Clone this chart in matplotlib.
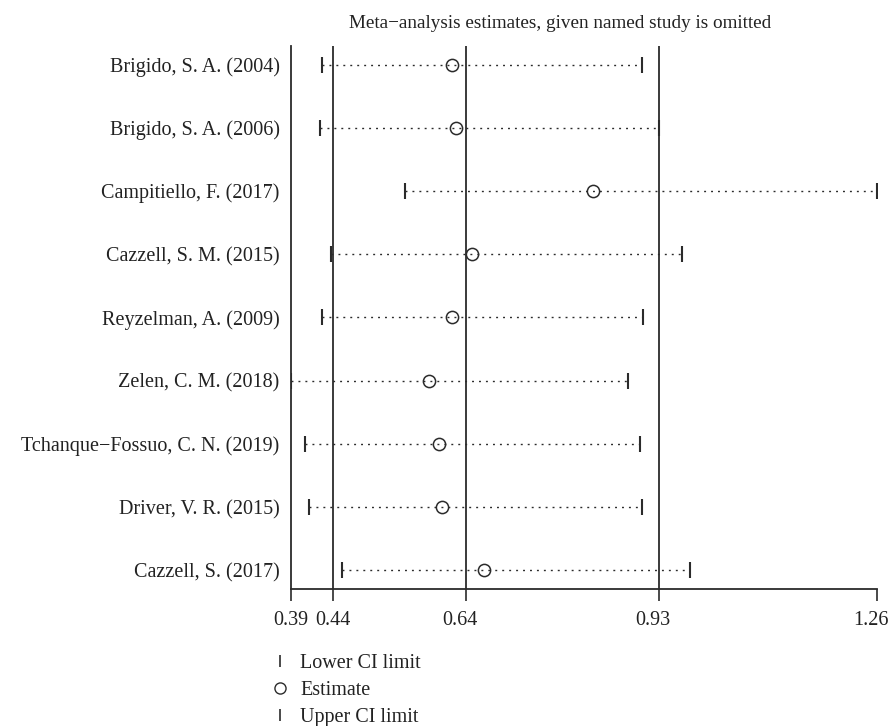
import matplotlib.pyplot as plt
from matplotlib.lines import Line2D
from matplotlib.transforms import ScaledTranslation

plt.rcParams['font.family'] = ['Liberation Serif', 'DejaVu Serif']

# studies omitted one at a time
studies = ['Brigido, S. A. (2004)', 'Brigido, S. A. (2006)', 'Campitiello, F. (2017)',
           'Cazzell, S. M. (2015)', 'Reyzelman, A. (2009)', 'Zelen, C. M. (2018)',
           'Tchanque\u2212Fossuo, C. N. (2019)', 'Driver, V. R. (2015)', 'Cazzell, S. (2017)']
lower = [0.424, 0.420, 0.548, 0.437, 0.424, 0.376, 0.397, 0.403, 0.453]
estimate = [0.620, 0.626, 0.832, 0.650, 0.620, 0.584, 0.599, 0.604, 0.667]
upper = [0.906, 0.931, 1.260, 0.966, 0.907, 0.885, 0.903, 0.906, 0.978]

# overall estimate and its CI (reference lines)
overall = [0.440, 0.640, 0.931]
tick_vals = [0.376, 0.440, 0.640, 0.931, 1.260]
tick_labels = ['0.39', '0.44', '0.64', '0.93', '1.26']

fig = plt.figure(figsize=(8.9, 7.26), dpi=100)
ax = fig.add_axes([0.3266, 0.1891, 0.6585, 0.7475])

ink = '#2b2b2b'
txt = '#222222'
fs = 14.5
ys = list(range(1, len(studies) + 1))

for v in overall:
    ax.axvline(v, color=ink, lw=1.3, zorder=1)

for y, lo, est, hi in zip(ys, lower, estimate, upper):
    ax.plot([lo, hi], [y, y], color=ink, lw=1.0, linestyle=(0, (1.4, 3.6)), zorder=2)
ax.plot(lower, ys, linestyle='none', marker='|', markersize=11, mew=1.5, color=ink, zorder=3)
ax.plot(upper, ys, linestyle='none', marker='|', markersize=11, mew=1.5, color=ink, zorder=3)
ax.plot(estimate, ys, linestyle='none', marker='o', markersize=8.8, mfc='none',
        mec=ink, mew=1.1, zorder=4)

ax.set_xlim(tick_vals[0], tick_vals[-1])
ax.set_ylim(9.293, 0.707)
ax.set_xticks(tick_vals)
ax.set_xticklabels(tick_labels, fontsize=fs, color=txt)
ax.set_yticks(ys)
ax.set_yticklabels(studies, fontsize=fs, color=txt)
ax.tick_params(axis='x', direction='out', length=8.8, width=1.2, color=ink, pad=7)
ax.tick_params(axis='y', length=0, pad=8)
for s in ['top', 'right']:
    ax.spines[s].set_visible(False)
for s in ['left', 'bottom']:
    ax.spines[s].set_color(ink)
    ax.spines[s].set_linewidth(1.3)

# the last three labels sit a little left of their ticks in the original
for lab in ax.get_xticklabels()[2:]:
    lab.set_transform(lab.get_transform() + ScaledTranslation(-6 / 100, 0, fig.dpi_scale_trans))

fig.text(560 / 890, 1 - 24 / 726, 'Meta\u2212analysis estimates, given named study is omitted',
         ha='center', va='center', fontsize=13.8, color=txt)

handles = [Line2D([], [], linestyle='none', marker='|', markersize=9, mew=1.2, color=ink),
           Line2D([], [], linestyle='none', marker='o', markersize=8, mfc='none', mec=ink, mew=1.0),
           Line2D([], [], linestyle='none', marker='|', markersize=9, mew=1.2, color=ink)]
leg = fig.legend(handles, ['Lower CI limit', 'Estimate', 'Upper CI limit'], loc='upper left',
                 bbox_to_anchor=(270 / 890, 1 - 654 / 726), frameon=False, fontsize=fs,
                 handlelength=1.0, handletextpad=0.5, labelspacing=0.38, borderpad=0,
                 borderaxespad=0)
for t in leg.get_texts():
    t.set_color(txt)

fig.savefig('out.png', dpi=100)
